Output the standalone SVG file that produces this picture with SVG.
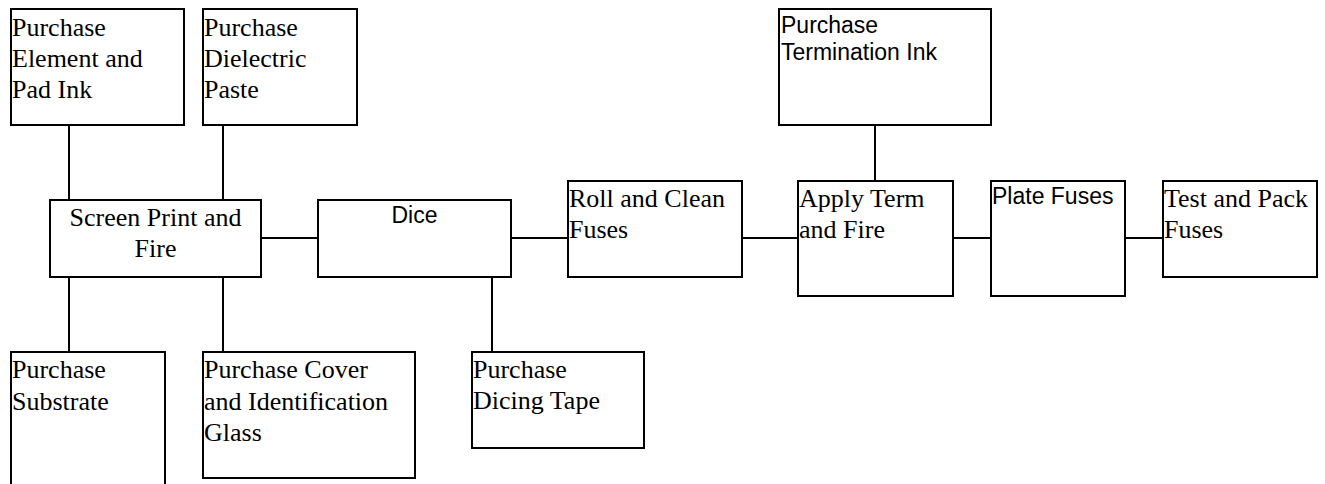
<svg xmlns="http://www.w3.org/2000/svg" width="1325" height="484" viewBox="0 0 1325 484">
<style>
rect{fill:#fff;stroke:#000;stroke-width:2}
line{stroke:#000;stroke-width:2}
.s{font-family:"Liberation Serif","Times New Roman",serif;font-size:26px;fill:#000}
.a{font-family:"Liberation Sans",Arial,sans-serif;font-size:23px;fill:#000}
.c{text-anchor:middle}
</style>
<rect x="0" y="0" width="1325" height="484" style="fill:#fff;stroke:none"/>
<g id="connectors">
<line x1="69" y1="125" x2="69" y2="200"/>
<line x1="223" y1="125" x2="223" y2="200"/>
<line x1="69" y1="277" x2="69" y2="352"/>
<line x1="223" y1="277" x2="223" y2="352"/>
<line x1="492" y1="277" x2="492" y2="352"/>
<line x1="875" y1="125" x2="875" y2="181"/>
<line x1="261" y1="238" x2="318" y2="238"/>
<line x1="511" y1="238" x2="568" y2="238"/>
<line x1="742" y1="238" x2="798" y2="238"/>
<line x1="953" y1="238" x2="991" y2="238"/>
<line x1="1125" y1="238" x2="1163" y2="238"/>
</g>
<g id="element-ink">
<rect x="11" y="9" width="173" height="116"/>
<text class="s" x="12" y="35.5">Purchase</text>
<text class="s" x="12" y="66.5">Element and</text>
<text class="s" x="12" y="97.5">Pad Ink</text>
</g>
<g id="dielectric">
<rect x="203" y="9" width="154" height="116"/>
<text class="s" x="204" y="35.5">Purchase</text>
<text class="s" x="204" y="66.5">Dielectric</text>
<text class="s" x="204" y="97.5">Paste</text>
</g>
<g id="screen-print">
<rect x="50" y="200" width="211" height="77"/>
<text class="s c" x="155.5" y="226">Screen Print and</text>
<text class="s c" x="155.5" y="257">Fire</text>
</g>
<g id="dice">
<rect x="318" y="200" width="193" height="77"/>
<text class="a c" x="414.5" y="223">Dice</text>
</g>
<g id="roll-clean">
<rect x="568" y="181" width="174" height="96"/>
<text class="s" x="569" y="206.5">Roll and Clean</text>
<text class="s" x="569" y="237.5">Fuses</text>
</g>
<g id="termination-ink">
<rect x="779" y="9" width="212" height="116"/>
<text class="a" x="781" y="33">Purchase</text>
<text class="a" x="781" y="60">Termination Ink</text>
</g>
<g id="apply-term">
<rect x="798" y="181" width="155" height="115"/>
<text class="s" x="799" y="206.5">Apply Term</text>
<text class="s" x="799" y="237.5">and Fire</text>
</g>
<g id="plate">
<rect x="991" y="181" width="134" height="115"/>
<text class="a" x="992" y="204">Plate Fuses</text>
</g>
<g id="test-pack">
<rect x="1163" y="181" width="154" height="96"/>
<text class="s" x="1164" y="206.5">Test and Pack</text>
<text class="s" x="1164" y="237.5">Fuses</text>
</g>
<g id="substrate">
<rect x="11" y="352" width="154" height="150"/>
<text class="s" x="12" y="378">Purchase</text>
<text class="s" x="12" y="410">Substrate</text>
</g>
<g id="cover-glass">
<rect x="203" y="352" width="212" height="126"/>
<text class="s" x="204" y="378">Purchase Cover</text>
<text class="s" x="204" y="410">and Identification</text>
<text class="s" x="204" y="441">Glass</text>
</g>
<g id="dicing-tape">
<rect x="472" y="352" width="172" height="96"/>
<text class="s" x="473" y="378">Purchase</text>
<text class="s" x="473" y="409">Dicing Tape</text>
</g>
</svg>
